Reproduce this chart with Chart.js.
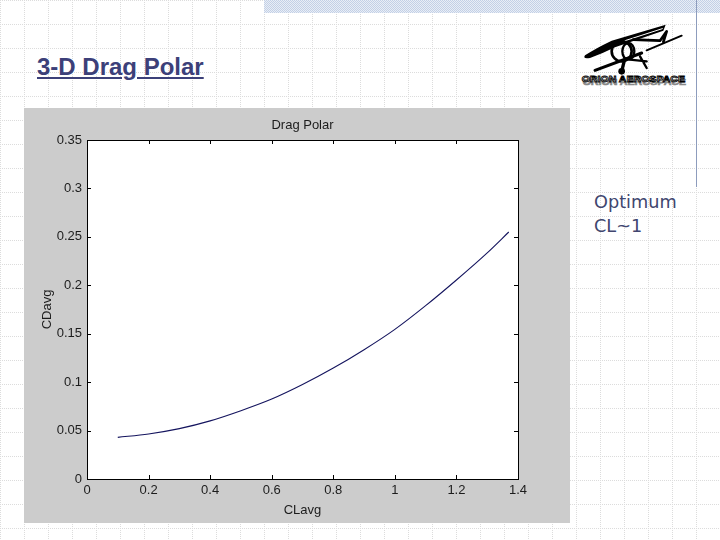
<!DOCTYPE html>
<html>
<head>
<meta charset="utf-8">
<title>3-D Drag Polar</title>
<script src="https://cdn.jsdelivr.net/npm/chart.js@4"></script>
<style>
  html, body { margin: 0; padding: 0; }
  body {
    width: 720px;
    height: 540px;
    overflow: hidden;
    position: relative;
    background-color: #fff;
    background-image: url("data:image/svg+xml,%3Csvg xmlns='http://www.w3.org/2000/svg' width='24' height='24'%3E%3Cpath d='M0 .5H24M.5 0V24' stroke='%23dcdcdc' stroke-dasharray='1 1' fill='none'/%3E%3C/svg%3E");
  }
  .band {
    position: absolute;
    left: 264px; top: 0;
    width: 456px; height: 13px;
    background-color: #e9eef6;
    background-image: url("data:image/svg+xml,%3Csvg xmlns='http://www.w3.org/2000/svg' width='2' height='2'%3E%3Cpath d='M0 0h1v1H0zM1 1h1v1H1z' fill='%23c3d0e6'/%3E%3C/svg%3E");
  }
  .rule { position: absolute; left: 696px; top: 0; width: 1px; height: 187px; background: #8d9cbd; }
  .heading {
    position: absolute;
    left: 37px; top: 53px;
    font: bold 24px "Liberation Sans", Arial, sans-serif;
    color: #3c4079;
    text-decoration: underline;
    white-space: nowrap;
  }
  .note {
    position: absolute;
    left: 594px; top: 190px;
    font: 17.7px/24px "DejaVu Sans", sans-serif;
    color: #41466f;
  }
  .logo { position: absolute; left: 575px; top: 18px; }
  .panel { position: absolute; left: 24px; top: 108px; width: 546px; height: 415px; background: #ccc; }
</style>
</head>
<body>
<div class="band"></div>
<div class="rule"></div>
<div class="heading">3-D Drag Polar</div>
<svg class="logo" width="115" height="72" viewBox="0 0 345 216">
  <g fill="none" stroke="#000" stroke-linecap="round" stroke-linejoin="round">
    <path d="M30 112 Q60 92 110 68 L272 20 L265 38 L120 88 Q80 108 45 120 Q22 124 30 112 Z" fill="#000" stroke="none"/>
    <path d="M150 68 L262 32" stroke="#fff" stroke-width="3"/>
    <path d="M60 157 L200 105" stroke-width="9"/>
    <path d="M215 97 L320 53" stroke-width="6"/>
    <circle cx="140" cy="100" r="30" stroke-width="8"/>
    <ellipse cx="160" cy="100" rx="18" ry="25" stroke-width="7"/>
    <path d="M175 65 L255 68 L275 40 L265 72" stroke-width="8"/>
    <path d="M148 128 L140 160" stroke-width="10"/>
    <circle cx="140" cy="160" r="10" fill="#000" stroke="none"/>
    <path d="M165 125 L215 130 M195 115 L215 150" stroke-width="7"/>
  </g>
  <text x="23" y="201" textLength="310" lengthAdjust="spacingAndGlyphs" font-family="Liberation Sans" font-weight="bold" font-size="28" fill="#888" stroke="#888" stroke-width="2">ORION AEROSPACE</text>
  <text x="20" y="193" textLength="310" lengthAdjust="spacingAndGlyphs" font-family="Liberation Sans" font-weight="bold" font-size="28" fill="#fff" stroke="#000" stroke-width="2.5">ORION AEROSPACE</text>
</svg>
<div class="note">Optimum<br>CL~1</div>
<div class="panel"><canvas id="polar" width="546" height="415"></canvas></div>

<script>
// values
const clAvg = [0.1, 0.2, 0.3, 0.4, 0.5, 0.6, 0.7, 0.8, 0.9, 1.0, 1.1, 1.2, 1.3, 1.37];
const cdAvg = [0.043, 0.0465, 0.052, 0.06, 0.0705, 0.0825, 0.0975, 0.1145, 0.1335, 0.1545, 0.179, 0.2055, 0.2335, 0.255];

const xTicks = [0, 0.2, 0.4, 0.6, 0.8, 1, 1.2, 1.4];
const yTicks = [0, 0.05, 0.1, 0.15, 0.2, 0.25, 0.3, 0.35];

const labelFont = { family: '"Liberation Sans", Arial, sans-serif', size: 13 };
const inkColor = '#1c1c1c';
const tickLen = 4;

// Matlab style box: frame all round, ticks pointing inwards
const boxPlugin = {
  id: 'box',
  beforeDatasetsDraw(chart) {
    const { ctx, chartArea: a } = chart;
    ctx.save();
    ctx.fillStyle = '#fff';
    ctx.fillRect(a.left, a.top, a.width, a.height);
    ctx.restore();
  },
  afterDatasetsDraw(chart) {
    const { ctx, chartArea: a, scales } = chart;
    ctx.save();
    ctx.strokeStyle = '#000';
    ctx.lineWidth = 1;
    ctx.strokeRect(a.left + 0.5, a.top + 0.5, a.width, a.height);
    ctx.beginPath();
    xTicks.forEach((v) => {
      const x = Math.round(scales.x.getPixelForValue(v)) + 0.5;
      ctx.moveTo(x, a.top);
      ctx.lineTo(x, a.top + tickLen);
      ctx.moveTo(x, a.bottom);
      ctx.lineTo(x, a.bottom - tickLen);
    });
    yTicks.forEach((v) => {
      const y = Math.round(scales.y.getPixelForValue(v)) + 0.5;
      ctx.moveTo(a.left, y);
      ctx.lineTo(a.left + tickLen, y);
      ctx.moveTo(a.right, y);
      ctx.lineTo(a.right - tickLen, y);
    });
    ctx.stroke();
    ctx.restore();
  },
};

new Chart(document.getElementById('polar'), {
  type: 'scatter',
  data: {
    datasets: [{
      data: clAvg.map((x, i) => ({ x, y: cdAvg[i] })),
      showLine: true,
      borderColor: '#14145e',
      borderWidth: 1.1,
      pointRadius: 0,
      cubicInterpolationMode: 'monotone',
    }],
  },
  plugins: [boxPlugin],
  options: {
    responsive: false,
    animation: false,
    layout: { padding: { left: 16, right: 52, top: 0, bottom: 5 } },
    plugins: {
      legend: { display: false },
      tooltip: { enabled: false },
      title: {
        display: true,
        text: 'Drag Polar',
        fullSize: false,
        color: inkColor,
        font: { ...labelFont, weight: 'normal' },
        padding: { top: 10, bottom: 6.4 },
      },
    },
    scales: {
      x: {
        type: 'linear',
        min: 0,
        max: 1.4,
        grid: { display: false, drawTicks: false, tickLength: 0 },
        border: { display: false },
        afterBuildTicks(scale) { scale.ticks = xTicks.map((value) => ({ value })); },
        afterFit(scale) { scale.height = 39; },
        ticks: {
          color: inkColor,
          font: labelFont,
          padding: 4,
          maxRotation: 0,
          autoSkip: false,
          callback: (v) => String(v),
        },
        title: { display: true, text: 'CLavg', color: inkColor, font: labelFont, padding: { top: 3, bottom: 0 } },
      },
      y: {
        min: 0,
        max: 0.35,
        grid: { display: false, drawTicks: false, tickLength: 0 },
        border: { display: false },
        afterBuildTicks(scale) { scale.ticks = yTicks.map((value) => ({ value })); },
        afterFit(scale) { scale.width = 47; },
        ticks: {
          color: inkColor,
          font: labelFont,
          padding: 5,
          autoSkip: false,
          callback: (v) => String(v),
        },
        title: { display: true, text: 'CDavg', color: inkColor, font: labelFont, padding: { top: 0, bottom: 0 } },
      },
    },
  },
});
</script>
</body>
</html>
